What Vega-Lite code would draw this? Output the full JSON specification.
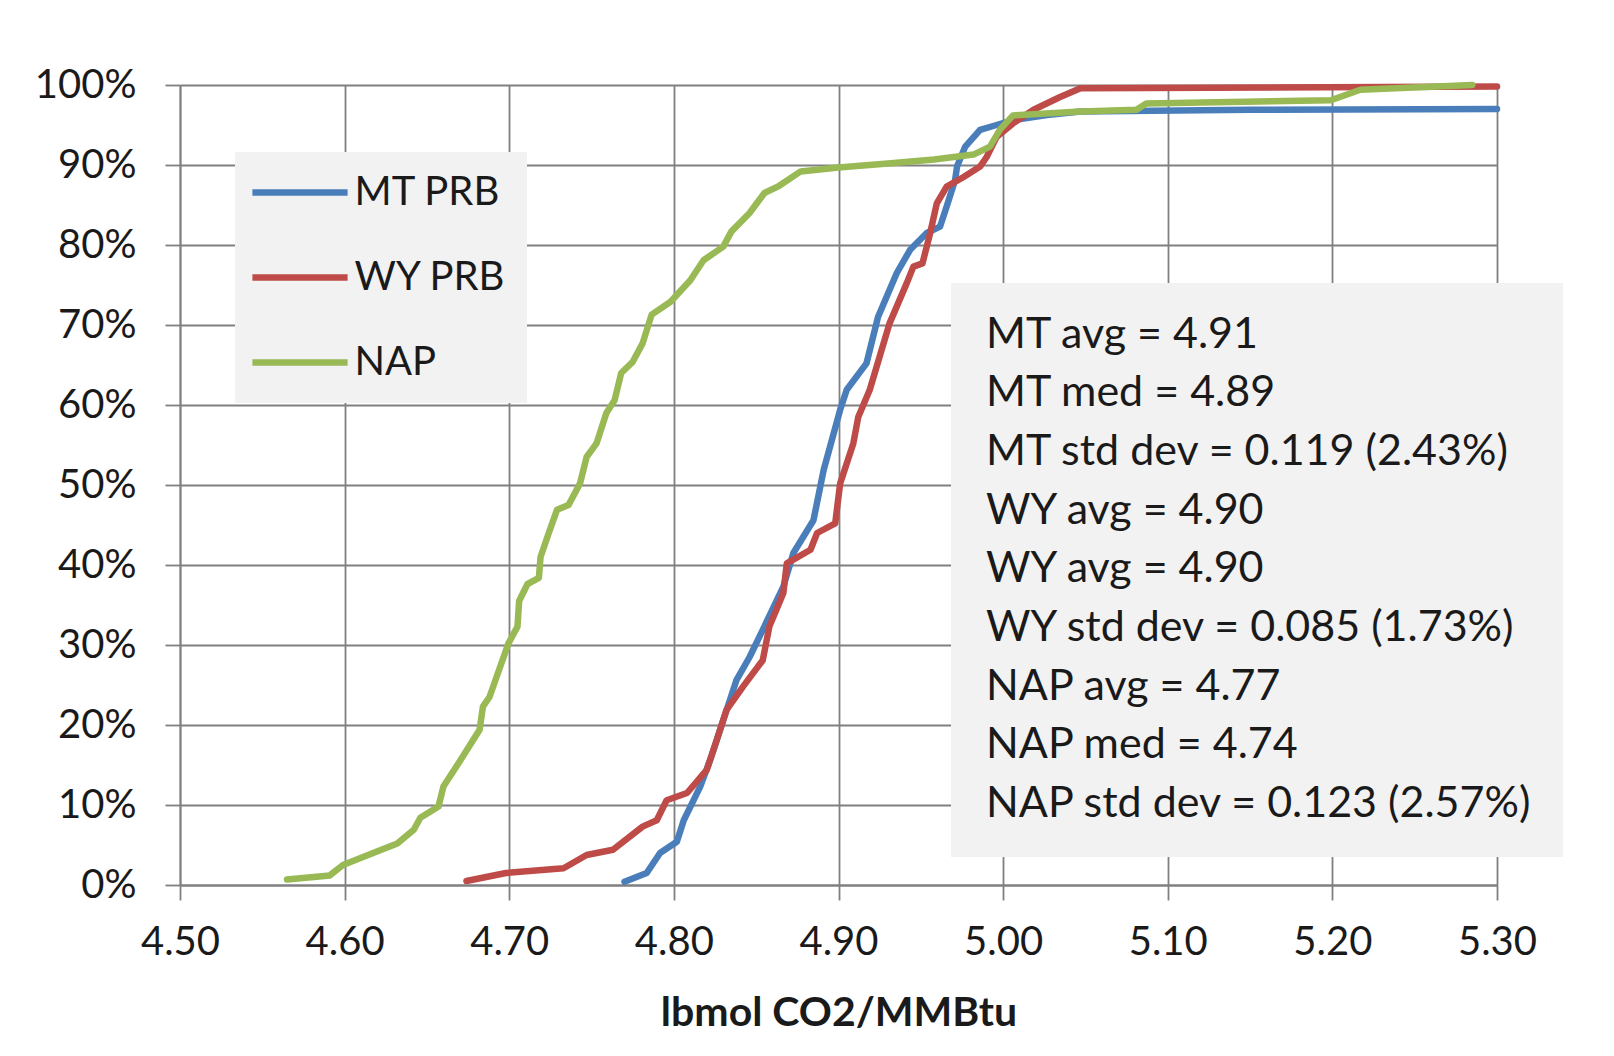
{
  "$schema": "https://vega.github.io/schema/vega-lite/v6.json",
  "width": 1317,
  "height": 800,
  "autosize": {"type": "none"},
  "padding": {"left": 180, "top": 85, "right": 117, "bottom": 171},
  "background": "white",
  "config": {
    "font": "Lato",
    "view": {"stroke": null},
    "axis": {
      "labelFont": "Lato",
      "labelFontSize": 40,
      "labelColor": "#1a1a1a",
      "labelFlush": false,
      "labelOverlap": false,
      "labelBound": false,
      "tickColor": "#808080",
      "tickSize": 15,
      "tickWidth": 1.8,
      "domainColor": "#808080",
      "domainWidth": 1.8,
      "gridColor": "#808080",
      "gridWidth": 1.8,
      "gridOpacity": 1,
      "grid": true
    }
  },
  "layer": [
    {
      "data": {
        "values": [
          {"s": "MT PRB", "x": 4.770, "p": 0.4},
          {"s": "MT PRB", "x": 4.7835, "p": 1.5},
          {"s": "MT PRB", "x": 4.7916, "p": 4},
          {"s": "MT PRB", "x": 4.8018, "p": 5.4},
          {"s": "MT PRB", "x": 4.806, "p": 8.1},
          {"s": "MT PRB", "x": 4.816, "p": 12.3},
          {"s": "MT PRB", "x": 4.822, "p": 15.6},
          {"s": "MT PRB", "x": 4.830, "p": 20.6},
          {"s": "MT PRB", "x": 4.838, "p": 25.6},
          {"s": "MT PRB", "x": 4.846, "p": 28.5},
          {"s": "MT PRB", "x": 4.854, "p": 31.9},
          {"s": "MT PRB", "x": 4.8665, "p": 37.3},
          {"s": "MT PRB", "x": 4.8726, "p": 41.5},
          {"s": "MT PRB", "x": 4.8848, "p": 45.6},
          {"s": "MT PRB", "x": 4.891, "p": 51.9},
          {"s": "MT PRB", "x": 4.901, "p": 59.4},
          {"s": "MT PRB", "x": 4.905, "p": 61.9},
          {"s": "MT PRB", "x": 4.917, "p": 65.2},
          {"s": "MT PRB", "x": 4.924, "p": 71},
          {"s": "MT PRB", "x": 4.9354, "p": 76.5},
          {"s": "MT PRB", "x": 4.9435, "p": 79.4},
          {"s": "MT PRB", "x": 4.9536, "p": 81.5},
          {"s": "MT PRB", "x": 4.9617, "p": 82.3},
          {"s": "MT PRB", "x": 4.9657, "p": 84.8},
          {"s": "MT PRB", "x": 4.9708, "p": 88.1},
          {"s": "MT PRB", "x": 4.972, "p": 89.8},
          {"s": "MT PRB", "x": 4.977, "p": 92.3},
          {"s": "MT PRB", "x": 4.986, "p": 94.4},
          {"s": "MT PRB", "x": 4.996, "p": 95},
          {"s": "MT PRB", "x": 5.006, "p": 95.6},
          {"s": "MT PRB", "x": 5.0265, "p": 96.25},
          {"s": "MT PRB", "x": 5.047, "p": 96.7},
          {"s": "MT PRB", "x": 5.15, "p": 96.9},
          {"s": "MT PRB", "x": 5.30, "p": 97.0},
          {"s": "WY PRB", "x": 4.674, "p": 0.5},
          {"s": "WY PRB", "x": 4.698, "p": 1.5},
          {"s": "WY PRB", "x": 4.733, "p": 2.1},
          {"s": "WY PRB", "x": 4.747, "p": 3.75},
          {"s": "WY PRB", "x": 4.763, "p": 4.4},
          {"s": "WY PRB", "x": 4.781, "p": 7.3},
          {"s": "WY PRB", "x": 4.7896, "p": 8.1},
          {"s": "WY PRB", "x": 4.7956, "p": 10.6},
          {"s": "WY PRB", "x": 4.808, "p": 11.5},
          {"s": "WY PRB", "x": 4.820, "p": 14.4},
          {"s": "WY PRB", "x": 4.826, "p": 18.1},
          {"s": "WY PRB", "x": 4.832, "p": 21.9},
          {"s": "WY PRB", "x": 4.842, "p": 24.8},
          {"s": "WY PRB", "x": 4.854, "p": 28.1},
          {"s": "WY PRB", "x": 4.858, "p": 32.3},
          {"s": "WY PRB", "x": 4.8665, "p": 36.5},
          {"s": "WY PRB", "x": 4.8686, "p": 40.2},
          {"s": "WY PRB", "x": 4.883, "p": 41.9},
          {"s": "WY PRB", "x": 4.887, "p": 44},
          {"s": "WY PRB", "x": 4.898, "p": 45.2},
          {"s": "WY PRB", "x": 4.901, "p": 50.2},
          {"s": "WY PRB", "x": 4.909, "p": 55.2},
          {"s": "WY PRB", "x": 4.912, "p": 58.5},
          {"s": "WY PRB", "x": 4.919, "p": 61.9},
          {"s": "WY PRB", "x": 4.931, "p": 70.2},
          {"s": "WY PRB", "x": 4.9414, "p": 75.2},
          {"s": "WY PRB", "x": 4.9455, "p": 77.3},
          {"s": "WY PRB", "x": 4.951, "p": 77.7},
          {"s": "WY PRB", "x": 4.9557, "p": 81.5},
          {"s": "WY PRB", "x": 4.9597, "p": 85.2},
          {"s": "WY PRB", "x": 4.9657, "p": 87.3},
          {"s": "WY PRB", "x": 4.976, "p": 88.5},
          {"s": "WY PRB", "x": 4.986, "p": 89.8},
          {"s": "WY PRB", "x": 4.990, "p": 91},
          {"s": "WY PRB", "x": 4.996, "p": 93.5},
          {"s": "WY PRB", "x": 5.006, "p": 95.2},
          {"s": "WY PRB", "x": 5.0185, "p": 96.9},
          {"s": "WY PRB", "x": 5.0346, "p": 98.5},
          {"s": "WY PRB", "x": 5.047, "p": 99.6},
          {"s": "WY PRB", "x": 5.30, "p": 99.8},
          {"s": "NAP", "x": 4.565, "p": 0.7},
          {"s": "NAP", "x": 4.591, "p": 1.2},
          {"s": "NAP", "x": 4.599, "p": 2.5},
          {"s": "NAP", "x": 4.615, "p": 3.8},
          {"s": "NAP", "x": 4.632, "p": 5.2},
          {"s": "NAP", "x": 4.642, "p": 6.9},
          {"s": "NAP", "x": 4.646, "p": 8.4},
          {"s": "NAP", "x": 4.657, "p": 9.8},
          {"s": "NAP", "x": 4.660, "p": 12.3},
          {"s": "NAP", "x": 4.671, "p": 15.8},
          {"s": "NAP", "x": 4.682, "p": 19.4},
          {"s": "NAP", "x": 4.684, "p": 22.3},
          {"s": "NAP", "x": 4.688, "p": 23.5},
          {"s": "NAP", "x": 4.694, "p": 27},
          {"s": "NAP", "x": 4.6995, "p": 30.2},
          {"s": "NAP", "x": 4.705, "p": 32.3},
          {"s": "NAP", "x": 4.706, "p": 35.5},
          {"s": "NAP", "x": 4.711, "p": 37.6},
          {"s": "NAP", "x": 4.718, "p": 38.4},
          {"s": "NAP", "x": 4.719, "p": 41},
          {"s": "NAP", "x": 4.724, "p": 44},
          {"s": "NAP", "x": 4.729, "p": 46.9},
          {"s": "NAP", "x": 4.736, "p": 47.5},
          {"s": "NAP", "x": 4.743, "p": 50.2},
          {"s": "NAP", "x": 4.747, "p": 53.5},
          {"s": "NAP", "x": 4.753, "p": 55.2},
          {"s": "NAP", "x": 4.759, "p": 59},
          {"s": "NAP", "x": 4.764, "p": 60.6},
          {"s": "NAP", "x": 4.768, "p": 64},
          {"s": "NAP", "x": 4.775, "p": 65.4},
          {"s": "NAP", "x": 4.781, "p": 67.7},
          {"s": "NAP", "x": 4.7865, "p": 71.3},
          {"s": "NAP", "x": 4.798, "p": 72.9},
          {"s": "NAP", "x": 4.810, "p": 75.6},
          {"s": "NAP", "x": 4.818, "p": 78.1},
          {"s": "NAP", "x": 4.830, "p": 79.8},
          {"s": "NAP", "x": 4.835, "p": 81.7},
          {"s": "NAP", "x": 4.846, "p": 84},
          {"s": "NAP", "x": 4.855, "p": 86.5},
          {"s": "NAP", "x": 4.864, "p": 87.4},
          {"s": "NAP", "x": 4.877, "p": 89.2},
          {"s": "NAP", "x": 4.900, "p": 89.7},
          {"s": "NAP", "x": 4.930, "p": 90.2},
          {"s": "NAP", "x": 4.958, "p": 90.7},
          {"s": "NAP", "x": 4.982, "p": 91.3},
          {"s": "NAP", "x": 4.992, "p": 92.3},
          {"s": "NAP", "x": 4.998, "p": 94.4},
          {"s": "NAP", "x": 5.006, "p": 96.2},
          {"s": "NAP", "x": 5.047, "p": 96.7},
          {"s": "NAP", "x": 5.081, "p": 96.9},
          {"s": "NAP", "x": 5.087, "p": 97.7},
          {"s": "NAP", "x": 5.199, "p": 98.1},
          {"s": "NAP", "x": 5.217, "p": 99.4},
          {"s": "NAP", "x": 5.285, "p": 100}
        ]
      },
      "mark": {"type": "line", "strokeWidth": 6.5, "strokeJoin": "round", "strokeCap": "round"},
      "encoding": {
        "x": {
          "field": "x",
          "type": "quantitative",
          "scale": {"domain": [4.5, 5.3], "nice": false, "zero": false},
          "axis": {
            "values": [4.5, 4.6, 4.7, 4.8, 4.9, 5.0, 5.1, 5.2, 5.3],
            "format": ".2f",
            "labelPadding": 22,
            "title": "lbmol CO2/MMBtu",
            "titleFont": "Lato",
            "titleFontSize": 41,
            "titleFontWeight": "bold",
            "titleColor": "#1a1a1a",
            "titlePadding": 31
          }
        },
        "y": {
          "field": "p",
          "type": "quantitative",
          "scale": {"domain": [0, 100], "nice": false},
          "axis": {
            "values": [0, 10, 20, 30, 40, 50, 60, 70, 80, 90, 100],
            "labelExpr": "datum.value + '%'",
            "labelPadding": 29,
            "title": null
          }
        },
        "color": {
          "field": "s",
          "type": "nominal",
          "scale": {"domain": ["MT PRB", "WY PRB", "NAP"], "range": ["#4A7EBB", "#BE4B48", "#98B954"]},
          "legend": {
            "title": null,
            "orient": "none",
            "legendX": 55,
            "legendY": 67,
            "fillColor": "#F2F2F2",
            "padding": 20,
            "symbolType": "M-2.8,0H2.8",
            "symbolSize": 1156,
            "symbolStrokeWidth": 6.5,
            "symbolOffset": 24.5,
            "labelOffset": 34,
            "labelFont": "Lato",
            "labelFontSize": 40,
            "labelColor": "#1a1a1a",
            "labelLimit": 400,
            "rowPadding": 44
          }
        }
      }
    },
    {
      "data": {
        "values": [
          {"t": "MT avg = 4.91"},
          {"t": "MT med = 4.89"},
          {"t": "MT std dev = 0.119 (2.43%)"},
          {"t": "WY avg = 4.90"},
          {"t": "WY avg = 4.90 "},
          {"t": "WY std dev = 0.085 (1.73%)"},
          {"t": "NAP avg = 4.77"},
          {"t": "NAP med = 4.74"},
          {"t": "NAP std dev = 0.123 (2.57%)"}
        ]
      },
      "mark": {"type": "point", "opacity": 0},
      "encoding": {
        "shape": {
          "field": "t",
          "type": "nominal",
          "sort": null,
          "legend": {
            "title": null,
            "orient": "none",
            "legendX": 771,
            "legendY": 198,
            "fillColor": "#F2F2F2",
            "padding": 30,
            "symbolSize": 0,
            "symbolStrokeWidth": 0,
            "symbolOpacity": 0,
            "symbolOffset": 0,
            "labelOffset": -38,
            "labelFont": "Lato",
            "labelFontSize": 43,
            "labelColor": "#1a1a1a",
            "labelLimit": 1000,
            "rowPadding": 14.7
          }
        }
      }
    }
  ]
}
